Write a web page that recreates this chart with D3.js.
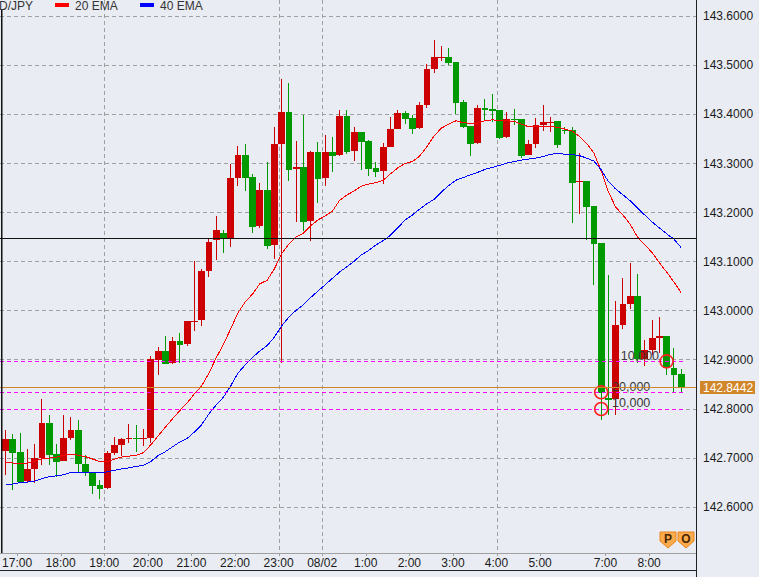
<!DOCTYPE html>
<html><head><meta charset="utf-8">
<script src="https://cdn.jsdelivr.net/npm/d3@7"></script>
<style>
body{margin:0;background:#E9ECF3;}
svg{display:block;}
text{font-family:"Liberation Sans",Arial,sans-serif;font-size:12px;}
</style>
</head><body>
<svg id="c" width="759" height="577"></svg>
<script>
// ---------------- DATA ----------------
const symbol = "USD/JPY";
const barCount = 94; // 10-minute bars, index 0 = 16:40
const open = [142.714,142.738,142.711,142.652,142.677,142.699,142.770,142.707,142.694,142.740,
142.756,142.687,142.669,142.644,142.639,142.709,142.726,142.739,142.740,142.739,
142.740,142.899,142.917,142.893,142.937,142.931,142.977,142.981,143.080,143.143,
143.157,143.147,143.270,143.316,143.272,143.172,143.245,143.132,143.339,143.404,
143.288,143.292,143.182,143.322,143.270,143.322,143.317,143.396,143.325,143.363,
143.345,143.290,143.284,143.333,143.369,143.402,143.392,143.371,143.418,143.492,
143.515,143.516,143.506,143.424,143.375,143.341,143.412,143.410,143.408,143.353,
143.390,143.390,143.316,143.339,143.377,143.383,143.386,143.367,143.367,143.262,
143.263,143.212,143.137,142.822,142.819,142.970,143.013,143.029,142.901,142.919,
142.944,142.948,142.883,142.870];
const high = [142.756,142.748,142.750,142.718,142.728,142.819,142.787,142.728,142.787,142.783,
142.777,142.705,142.669,142.654,142.714,142.742,142.740,142.768,142.766,142.758,
142.907,142.926,142.948,142.946,142.954,142.979,143.100,143.084,143.147,143.192,
143.164,143.298,143.335,143.339,143.278,143.259,143.302,143.373,143.471,143.463,
143.345,143.398,143.324,143.343,143.357,143.353,143.408,143.408,143.373,143.363,
143.347,143.303,143.341,143.394,143.408,143.406,143.398,143.424,143.502,143.551,
143.538,143.534,143.506,143.428,143.375,143.418,143.430,143.441,143.408,143.404,
143.410,143.390,143.347,143.392,143.418,143.394,143.386,143.373,143.374,143.320,
143.263,143.212,143.137,143.072,143.019,143.066,143.096,143.074,142.940,142.980,
142.986,142.948,142.923,142.880];
const low = [142.665,142.634,142.651,142.650,142.648,142.684,142.684,142.661,142.694,142.736,
142.669,142.663,142.626,142.616,142.637,142.705,142.703,142.730,142.711,142.724,
142.730,142.868,142.891,142.891,142.893,142.927,142.958,142.969,143.068,143.102,
143.116,143.128,143.253,143.242,143.157,143.167,143.125,143.105,142.893,143.264,
143.180,143.162,143.142,143.219,143.254,143.282,143.314,143.319,143.305,143.286,
143.274,143.272,143.258,143.333,143.369,143.379,143.359,143.369,143.412,143.484,
143.508,143.500,143.400,143.371,143.314,143.339,143.386,143.384,143.349,143.351,
143.377,143.310,143.316,143.331,143.365,143.363,143.331,143.360,143.178,143.196,
143.143,143.052,142.777,142.787,142.787,142.962,143.003,142.893,142.887,142.909,
142.913,142.868,142.834,142.834];
const close = [142.738,142.710,142.651,142.677,142.699,142.770,142.706,142.692,142.740,142.756,
142.686,142.669,142.643,142.637,142.709,142.726,142.738,142.740,142.739,142.740,
142.900,142.917,142.891,142.937,142.930,142.979,142.979,143.080,143.139,143.164,
143.147,143.270,143.316,143.270,143.170,143.245,143.130,143.339,143.404,143.286,
143.292,143.180,143.322,143.268,143.322,143.315,143.396,143.323,143.363,143.343,
143.288,143.282,143.333,143.369,143.402,143.390,143.369,143.418,143.491,143.516,
143.516,143.504,143.423,143.373,143.339,143.412,143.408,143.406,143.351,143.390,
143.389,143.314,143.339,143.377,143.384,143.384,143.337,143.366,143.260,143.263,
143.211,143.136,142.831,142.817,142.970,143.013,143.029,142.901,142.919,142.944,
142.948,142.883,142.868,142.844];
const ema20 = [142.690,142.689,142.688,142.689,142.693,142.697,142.699,142.701,142.705,142.707,
142.705,142.702,142.697,142.692,142.692,142.697,142.701,142.703,142.705,142.710,
142.726,142.744,142.762,142.779,142.796,142.811,142.830,142.846,142.872,142.903,
142.931,142.962,142.995,143.017,143.033,143.054,143.061,143.084,143.115,143.135,
143.149,143.157,143.172,143.184,143.192,143.202,143.224,143.235,143.243,143.253,
143.257,143.260,143.265,143.278,143.290,143.299,143.303,143.314,143.333,143.355,
143.371,143.379,143.386,143.382,143.381,143.381,143.386,143.388,143.386,143.386,
143.385,143.379,143.374,143.374,143.375,143.374,143.373,143.369,143.365,143.354,
143.340,143.320,143.284,143.241,143.210,143.194,143.175,143.149,143.133,143.118,
143.097,143.078,143.058,143.036];
const ema40 = [142.644,142.646,142.649,142.650,142.652,142.657,142.661,142.663,142.665,142.670,
142.670,142.670,142.669,142.669,142.671,142.674,142.677,142.679,142.682,142.684,
142.692,142.704,142.712,142.722,142.732,142.739,142.752,142.767,142.789,142.807,
142.823,142.846,142.872,142.889,142.904,142.917,142.928,142.945,142.968,142.986,
143.000,143.011,143.026,143.039,143.052,143.065,143.078,143.089,143.100,143.113,
143.122,143.133,143.142,143.153,143.168,143.184,143.194,143.206,143.217,143.226,
143.241,143.254,143.265,143.270,143.276,143.281,143.287,143.291,143.295,143.300,
143.303,143.306,143.308,143.310,143.313,143.318,143.319,143.318,143.317,143.315,
143.310,143.304,143.286,143.262,143.247,143.235,143.223,143.208,143.194,143.180,
143.168,143.156,143.145,143.128];
const priceTicks = [142.6,142.7,142.8,142.9,143.0,143.1,143.2,143.3,143.4,143.5,143.6];
const timeTickBars   = [2,8,14,20,26,32,38,44,50,56,62,68,74,83,89];
const timeTickLabels = ["17:00","18:00","19:00","20:00","21:00","22:00","23:00","08/02","1:00","2:00","3:00","4:00","5:00","7:00","8:00"];
const gridBars = [14,38,44,68];
const hLinePrice = 143.1466;     // black horizontal line
const bidPrice = 142.8442;       // current price
const orderPrices = [142.896,142.833,142.799];
const orderLabels = ["10,000","20,000","10,000"];
const orderLabelBars = [84.7,83.5,83.5];
const orderMarkBars = [91,82,82];

// ---------------- CHART ----------------
const svg = d3.select('#c');
const plotR = 696, axisY = 553, bottomY = 570;
const x = d3.scaleLinear().domain([0, 93]).range([5.5, 681.1]);
const y = d3.scaleLinear().domain([142.8, 143.6]).range([408.5, 15.7]);
const step = x(1) - x(0);
const RED = "#cc0000", GREEN = "#009900";

svg.append("rect").attr("width",759).attr("height",577).attr("fill","#E9ECF3");

svg.append("defs").append("clipPath").attr("id","plot")
  .append("rect").attr("x",0).attr("y",0).attr("width",plotR).attr("height",axisY);
const plot = svg.append("g").attr("clip-path","url(#plot)");

// horizontal grid
plot.selectAll("line.hg").data(priceTicks).join("line")
  .attr("x1",0).attr("x2",plotR)
  .attr("y1",d=>Math.round(y(d))+0.5).attr("y2",d=>Math.round(y(d))+0.5)
  .attr("stroke","#a0a0a0").attr("stroke-dasharray","4,3").attr("shape-rendering","crispEdges");
// vertical grid
plot.selectAll("line.vg").data(gridBars).join("line")
  .attr("x1",d=>Math.round(x(d)-step*0.41)+0.5).attr("x2",d=>Math.round(x(d)-step*0.41)+0.5)
  .attr("y1",0).attr("y2",axisY)
  .attr("stroke","#a0a0a0").attr("stroke-dasharray","4,3").attr("shape-rendering","crispEdges");

// candles
const idx = d3.range(barCount);
const col = i => close[i] >= open[i] ? RED : GREEN;
plot.selectAll("rect.wick").data(idx).join("rect")
  .attr("x",i=>Math.floor(x(i))).attr("width",1)
  .attr("y",i=>y(high[i])).attr("height",i=>Math.max(1,y(low[i])-y(high[i])))
  .attr("fill",col).attr("shape-rendering","crispEdges");
plot.selectAll("rect.body").data(idx).join("rect")
  .attr("x",i=>x(i)-3.3).attr("width",6.8)
  .attr("y",i=>y(Math.max(open[i],close[i])))
  .attr("height",i=>Math.max(1,Math.abs(y(open[i])-y(close[i]))))
  .attr("fill",col).attr("shape-rendering","crispEdges");

// EMA lines
const line = arr => d3.line().x((d,i)=>x(i)).y(d=>y(d))(arr);
plot.append("path").attr("d",line(ema20)).attr("fill","none").attr("stroke","#ff0000")
  .attr("stroke-width",1).attr("shape-rendering","crispEdges");
plot.append("path").attr("d",line(ema40)).attr("fill","none").attr("stroke","#0000ff")
  .attr("stroke-width",1).attr("shape-rendering","crispEdges");

// black horizontal line
plot.append("line").attr("x1",0).attr("x2",plotR)
  .attr("y1",Math.round(y(hLinePrice))+0.5).attr("y2",Math.round(y(hLinePrice))+0.5)
  .attr("stroke","#111").attr("shape-rendering","crispEdges");

// order lines
const lastX = x(barCount-1) + 4;
plot.selectAll("line.ord").data(orderPrices).join("line")
  .attr("x1",0).attr("x2",lastX)
  .attr("y1",d=>Math.round(y(d))+0.5).attr("y2",d=>Math.round(y(d))+0.5)
  .attr("stroke","#ff00ff").attr("stroke-dasharray","4,3").attr("shape-rendering","crispEdges");
plot.selectAll("text.ord").data(orderPrices).join("text")
  .attr("x",(d,i)=>x(orderLabelBars[i])).attr("y",d=>y(d)-1.5)
  .attr("fill","#3a3a3a").style("font-size","12.5px").text((d,i)=>orderLabels[i]);
plot.selectAll("circle.ord").data(orderPrices).join("circle")
  .attr("cx",(d,i)=>x(orderMarkBars[i])).attr("cy",d=>y(d))
  .attr("r",6.5).attr("fill","none").attr("stroke","#ff2020").attr("stroke-width",1.6);

// bid line
plot.append("line").attr("x1",0).attr("x2",plotR)
  .attr("y1",Math.round(y(bidPrice))+0.5).attr("y2",Math.round(y(bidPrice))+0.5)
  .attr("stroke","#d2862a").attr("shape-rendering","crispEdges");

// left black vertical
svg.append("rect").attr("x",1).attr("y",9).attr("width",1.5).attr("height",axisY-9).attr("fill","#111");

// frame / axes
svg.append("line").attr("x1",0).attr("x2",plotR).attr("y1",axisY+0.5).attr("y2",axisY+0.5)
  .attr("stroke","#a0a0a0").attr("shape-rendering","crispEdges");
svg.append("line").attr("x1",0).attr("x2",plotR+1).attr("y1",bottomY+0.5).attr("y2",bottomY+0.5)
  .attr("stroke","#222").attr("shape-rendering","crispEdges");
svg.append("line").attr("x1",plotR+0.5).attr("x2",plotR+0.5).attr("y1",0).attr("y2",577)
  .attr("stroke","#222").attr("shape-rendering","crispEdges");

// price axis labels
svg.selectAll("text.py").data(priceTicks).join("text")
  .attr("x",703).attr("y",d=>y(d)+4.5).attr("fill","#1a1a1a")
  .text(d=>d.toFixed(4));
// bid label
svg.append("rect").attr("x",700).attr("y",Math.round(y(bidPrice))-6).attr("width",55).attr("height",13)
  .attr("fill","#d2862a");
svg.append("text").attr("x",703).attr("y",Math.round(y(bidPrice))+5).attr("fill","#fff").text(bidPrice.toFixed(4));

// time axis
svg.selectAll("line.tt").data(timeTickBars).join("line")
  .attr("x1",d=>Math.round(x(d)-step*0.41)+0.5).attr("x2",d=>Math.round(x(d)-step*0.41)+0.5)
  .attr("y1",axisY).attr("y2",axisY+3).attr("stroke","#a0a0a0").attr("shape-rendering","crispEdges");
svg.selectAll("text.tl").data(timeTickBars).join("text")
  .attr("x",d=>x(d)-step*0.41).attr("y",567).attr("text-anchor","middle").attr("fill","#1a1a1a")
  .text((d,i)=>timeTickLabels[i]);

// legend
svg.append("text").attr("x",33).attr("y",10).attr("text-anchor","end").attr("fill","#333").text(symbol);
svg.append("rect").attr("x",55).attr("y",3).attr("width",14).attr("height",4).attr("fill","#ff0000");
svg.append("text").attr("x",75).attr("y",10).attr("fill","#333").text("20 EMA");
svg.append("rect").attr("x",140).attr("y",3).attr("width",14).attr("height",4).attr("fill","#0000ff");
svg.append("text").attr("x",160).attr("y",10).attr("fill","#333").text("40 EMA");

// P / O badges
const badges = [{l:"P",x0:660},{l:"O",x0:678}];
badges.forEach(b=>{
  const x0=b.x0, x1=b.x0+16, t=532, m=541, bt=548, cx=(x0+x1)/2;
  svg.append("path").attr("d",`M${x0},${t}H${x1}V${m}L${cx},${bt}L${x0},${m}Z`)
    .attr("fill","#fbab4c").attr("stroke","#e8841a").attr("stroke-width",1);
  svg.append("text").attr("x",cx).attr("y",t+11).attr("text-anchor","middle")
    .attr("fill","#4a2600").style("font-weight","bold").style("font-size","12px").text(b.l);
});
</script>
</body></html>
